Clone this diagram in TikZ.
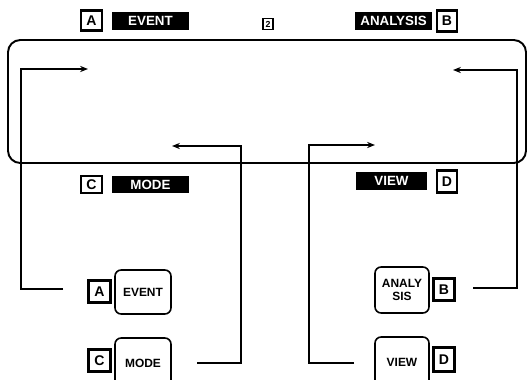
\documentclass[tikz,border=0pt]{standalone}
\usepackage{fontspec}
\setmainfont{Liberation Sans}
\usetikzlibrary{arrows.meta}
\begin{document}
\begin{tikzpicture}[x=0.02cm,y=-0.02cm,
  letterbox/.style={draw,line width=1.2pt,fill=white,inner sep=0pt,font=\fontsize{8}{9}\selectfont\bfseries},
  blacklabel/.style={fill=black,text=white,inner sep=0pt,minimum height=0.36cm,font=\fontsize{7.6}{9}\selectfont\bfseries},
  button/.style={draw,line width=0.9pt,rounded corners=3.5pt,inner sep=0pt,minimum width=1.12cm,align=center,font=\fontsize{6.8}{7.4}\selectfont\bfseries},
  conn/.style={line width=0.85pt},
  arr/.style={line width=0.85pt,-{Stealth[length=4.5pt,width=3.5pt]}},
  panel/.style={line width=1.1pt,rounded corners=7pt}]
\useasboundingbox (0,0) rectangle (527,379);
\clip (0,0) rectangle (527,379);
% panel
\draw[panel] (8,40) rectangle (526,163);
% top labels
\node[letterbox,minimum width=0.42cm,minimum height=0.40cm] (tA) at (91.5,20.5) {A};
\node[blacklabel,minimum width=1.54cm] (tEvent) at (150.5,21) {EVENT};
\node[draw,line width=1pt,inner sep=0pt,minimum width=0.2cm,minimum height=0.22cm,font=\fontsize{5}{5}\selectfont\bfseries] (icon) at (268,24) {2};
\node[blacklabel,minimum width=1.54cm] (tAnalysis) at (393.5,21) {ANALYSIS};
\node[letterbox,minimum width=0.40cm,minimum height=0.42cm] (tB) at (447,21) {B};
% labels under panel
\node[letterbox,minimum width=0.42cm,minimum height=0.34cm] (tC) at (91.5,184.5) {C};
\node[blacklabel,minimum width=1.54cm,minimum height=0.34cm] (tMode) at (150.5,184.5) {MODE};
\node[blacklabel,minimum width=1.42cm] (tView) at (391.5,181) {VIEW};
\node[letterbox,minimum width=0.40cm,minimum height=0.44cm] (tD) at (447,181.5) {D};
% buttons
\node[button,minimum height=0.88cm] (bEvent) at (143,292) {EVENT};
\node[letterbox,minimum width=0.44cm,minimum height=0.44cm] (bA) at (99.5,291.5) {A};
\node[button,minimum height=1.0cm] (bMode) at (143,363) {MODE};
\node[letterbox,minimum width=0.44cm,minimum height=0.44cm] (bC) at (99.5,360.5) {C};
\node[button,minimum width=1.08cm,minimum height=0.92cm] (bAnalysis) at (402,290) {ANALY\\SIS};
\node[letterbox,minimum width=0.42cm,minimum height=0.44cm] (bB) at (444,289.5) {B};
\node[button,minimum width=1.08cm,minimum height=1.0cm] (bView) at (402,362) {VIEW};
\node[letterbox,minimum width=0.42cm,minimum height=0.48cm] (bD) at (444,359.5) {D};
% connectors
\coordinate (evS) at (63,289);
\coordinate (evK) at (21,289);
\coordinate (evT) at (88,69);
\draw[arr] (evS) -- (evK) |- (evT);
\coordinate (moS) at (197,363);
\coordinate (moK) at (241,363);
\coordinate (moT) at (172,146);
\draw[arr] (moS) -- (moK) |- (moT);
\coordinate (viS) at (354,363);
\coordinate (viK) at (309,363);
\coordinate (viT) at (375,145);
\draw[arr] (viS) -- (viK) |- (viT);
\coordinate (anS) at (473,288);
\coordinate (anK) at (517,288);
\coordinate (anT) at (453,70);
\draw[arr] (anS) -- (anK) |- (anT);
\end{tikzpicture}
\end{document}
